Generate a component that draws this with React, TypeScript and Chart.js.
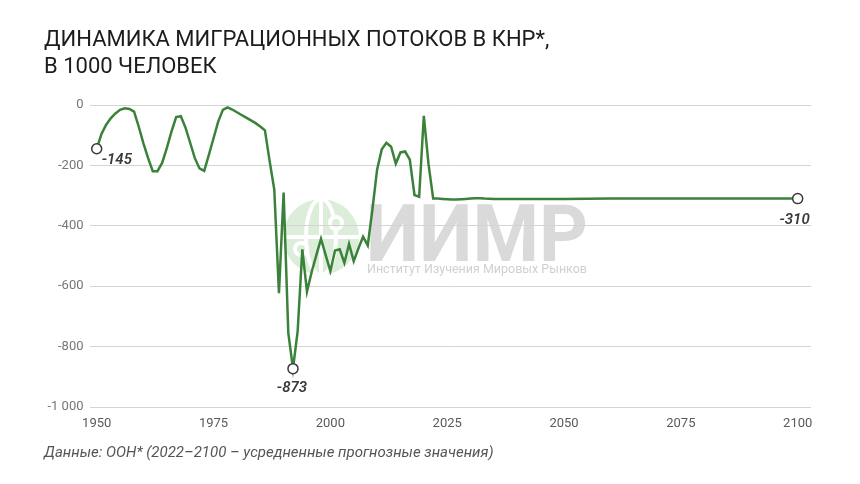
import React, { useEffect, useRef } from "react";
import { Chart, registerables } from "chart.js";

Chart.register(...registerables);

const years: number[] = [
  1950, 1951, 1952, 1953, 1954, 1955, 1956, 1957, 1958, 1959,
  1960, 1961, 1962, 1963, 1964, 1965, 1966, 1967, 1968, 1969,
  1970, 1971, 1972, 1973, 1974, 1975, 1976, 1977, 1978, 1979,
  1980, 1981, 1982, 1983, 1984, 1985, 1986, 1987, 1988, 1989,
  1990, 1991, 1992, 1993, 1994, 1995, 1996, 1997, 1998, 1999,
  2000, 2001, 2002, 2003, 2004, 2005, 2006, 2007, 2008, 2009,
  2010, 2011, 2012, 2013, 2014, 2015, 2016, 2017, 2018, 2019,
  2020, 2021, 2022, 2023, 2024, 2025, 2026, 2027, 2028, 2029,
  2030, 2031, 2032, 2033, 2035, 2040, 2050, 2060, 2070, 2080,
  2090, 2100,
];

const migration: number[] = [
  -145, -97, -66, -44, -28, -16, -11, -13, -22, -72,
  -127, -176, -219, -219, -192, -143, -88, -40, -37, -75,
  -125, -176, -210, -218, -165, -110, -55, -16, -8, -15,
  -24, -33, -42, -51, -60, -71, -84, -185, -280, -623,
  -290, -755, -873, -750, -478, -618, -553, -497, -443, -497,
  -550, -482, -478, -523, -460, -517, -475, -436, -465, -346,
  -214, -147, -125, -138, -194, -157, -154, -181, -298, -304,
  -36, -195, -310, -310, -311, -312, -313, -313, -312, -311,
  -310, -309, -309, -310, -311, -311, -311, -310, -310, -310,
  -310, -310,
];

const markedYears: number[] = [1950, 1992, 2100];
const markedLabels: string[] = ["-145", "-873", "-310"];

const xTicks: number[] = [1950, 1975, 2000, 2025, 2050, 2075, 2100];
const yTicks: number[] = [0, -200, -400, -600, -800, -1000];

const titleLines: string[] = [
  "ДИНАМИКА МИГРАЦИОННЫХ ПОТОКОВ В КНР*,",
  "В 1000 ЧЕЛОВЕК",
];
const sourceNote = "Данные: ООН* (2022–2100 – усредненные прогнозные значения)";

const LINE_COLOR = "#3a823a";

const watermarkPlugin = {
  id: "watermark",
  beforeDraw(chart: any) {
    const ctx = chart.ctx;
    ctx.save();
    // globe
    const cx = 321, cy = 237, r = 38;
    ctx.fillStyle = "#dcedda";
    ctx.beginPath();
    ctx.arc(cx, cy, r, 0, Math.PI * 2);
    ctx.fill();
    ctx.strokeStyle = "#ffffff";
    ctx.lineWidth = 4;
    ctx.beginPath();
    ctx.ellipse(cx, cy, 15, r, 0, 0, Math.PI * 2);
    ctx.stroke();
    ctx.beginPath();
    ctx.moveTo(cx, cy - r);
    ctx.lineTo(cx, cy + r);
    ctx.stroke();
    ctx.beginPath();
    ctx.moveTo(cx - r, cy);
    ctx.lineTo(cx + r, cy);
    ctx.stroke();
    ctx.fillStyle = "#dcedda";
    ctx.beginPath();
    ctx.arc(cx + 15, cy - 14, 6, 0, Math.PI * 2);
    ctx.fill();
    ctx.stroke();
    ctx.beginPath();
    ctx.arc(cx - 20, cy + 12, 6, 0, Math.PI * 2);
    ctx.fill();
    ctx.stroke();
    // text
    ctx.fillStyle = "#dadada";
    ctx.font = "bold 80px Roboto";
    ctx.textBaseline = "alphabetic";
    ctx.textAlign = "left";
    const w = ctx.measureText("ИИМР").width;
    ctx.save();
    ctx.translate(366, 261);
    ctx.scale(222 / w, 1);
    ctx.fillText("ИИМР", 0, 0);
    ctx.restore();
    ctx.fillStyle = "#d0d0d0";
    ctx.font = "12.5px Roboto";
    const w2 = ctx.measureText("Институт Изучения Мировых Рынков").width;
    ctx.save();
    ctx.translate(367, 273);
    ctx.scale(220 / w2, 1);
    ctx.fillText("Институт Изучения Мировых Рынков", 0, 0);
    ctx.restore();
    ctx.restore();
  },
};

const labelPlugin = {
  id: "pointLabels",
  afterDatasetsDraw(chart: any) {
    const ctx = chart.ctx;
    const xs = chart.scales.x;
    const ys = chart.scales.y;
    ctx.save();
    ctx.fillStyle = "#3a3a3a";
    ctx.font = "italic 600 15px Roboto";
    ctx.textBaseline = "middle";
    markedYears.forEach((yr, i) => {
      const idx = years.indexOf(yr);
      const px = xs.getPixelForValue(yr);
      const py = ys.getPixelForValue(migration[idx]);
      if (i === 0) {
        ctx.textAlign = "left";
        ctx.fillText(markedLabels[i], px + 5, py + 11);
      } else if (i === 1) {
        ctx.textAlign = "center";
        ctx.fillText(markedLabels[i], px - 1, py + 20);
      } else {
        ctx.textAlign = "right";
        ctx.fillText(markedLabels[i], px + 12, py + 22);
      }
    });
    ctx.restore();
  },
};

export default function App() {
  const ref = useRef<HTMLCanvasElement | null>(null);

  useEffect(() => {
    if (!ref.current) return;
    const data = years.map((y, i) => ({ x: y, y: migration[i] }));
    const chart = new Chart(ref.current, {
      type: "line",
      data: {
        datasets: [
          {
            data,
            borderColor: LINE_COLOR,
            borderWidth: 2.5,
            tension: 0,
            fill: false,
            pointRadius: (c: any) =>
              markedYears.includes(years[c.dataIndex]) ? 5 : 0,
            pointHoverRadius: 0,
            pointBackgroundColor: "#ffffff",
            pointBorderColor: "#3a3a3a",
            pointBorderWidth: 1.5,
          },
        ],
      },
      options: {
        animation: false,
        responsive: false,
        events: [],
        layout: { padding: { left: 0, right: 49, top: 105, bottom: 0 } },
        plugins: {
          legend: { display: false },
          tooltip: { enabled: false },
        },
        scales: {
          x: {
            type: "linear",
            min: 1948.46,
            max: 2102.85,
            afterBuildTicks: (s: any) => {
              s.ticks = xTicks.map((v) => ({ value: v }));
            },
            afterFit: (s: any) => {
              s.height = 77;
            },
            grid: { display: false, drawTicks: false },
            border: { display: false },
            ticks: {
              color: "#5a5a5a",
              font: { family: "Roboto", size: 13 },
              padding: 9,
              maxRotation: 0,
              autoSkip: false,
              callback: (v: any) => String(v),
            },
          },
          y: {
            min: -1000,
            max: 0,
            afterBuildTicks: (s: any) => {
              s.ticks = yTicks.map((v) => ({ value: v }));
            },
            afterFit: (s: any) => {
              s.width = 89.5;
            },
            grid: { color: "#d4d4d4", lineWidth: 1, drawTicks: false },
            border: { display: false },
            ticks: {
              color: "#777777",
              font: { family: "Roboto", size: 13 },
              padding: 6,
              callback: (v: any) =>
                v === -1000 ? "-1 000" : String(v),
            },
          },
        },
      },
      plugins: [watermarkPlugin, labelPlugin],
    } as any);
    return () => chart.destroy();
  }, []);

  return (
    <div
      style={{
        position: "absolute",
        left: 0,
        top: 0,
        width: 860,
        height: 484,
        background: "#ffffff",
        overflow: "hidden",
      }}
    >
      <canvas
        ref={ref}
        width={860}
        height={484}
        style={{ position: "absolute", left: 0, top: 0, width: 860, height: 484 }}
      />
      <div
        style={{
          position: "absolute",
          left: 44,
          top: 25,
          fontFamily: "Roboto, sans-serif",
          fontSize: 22,
          lineHeight: "27px",
          color: "#1c1c1c",
          whiteSpace: "nowrap",
        }}
      >
        {titleLines.map((t, i) => (
          <div key={i}>{t}</div>
        ))}
      </div>
      <div
        style={{
          position: "absolute",
          left: 44,
          top: 444,
          fontFamily: "Roboto, sans-serif",
          fontStyle: "italic",
          fontSize: 15,
          lineHeight: "17px",
          color: "#555555",
          whiteSpace: "nowrap",
        }}
      >
        {sourceNote}
      </div>
    </div>
  );
}
